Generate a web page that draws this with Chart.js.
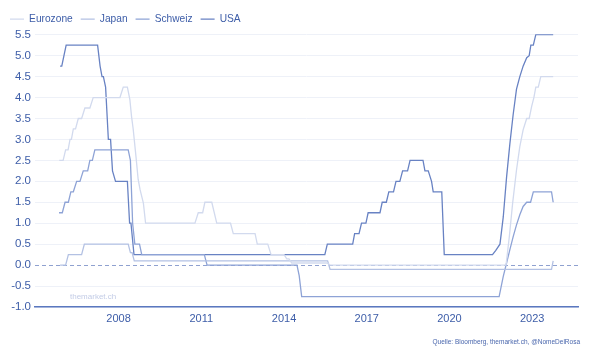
<!DOCTYPE html>
<html><head><meta charset="utf-8">
<script src="https://cdn.jsdelivr.net/npm/chart.js@4.4.1/dist/chart.umd.min.js"></script>
<style>html,body{margin:0;padding:0;background:#fff}#wrap{width:604px;height:353px;position:relative}</style>
</head><body><div id="wrap"><canvas id="c"></canvas></div>
<script>
// ---- data (x = position on the year axis, y = policy rate in %) ----
const seriesNames = ['Eurozone', 'Japan', 'Schweiz', 'USA'];

const euroX = [2005.85,2005.99,2006.08,2006.17,2006.24,2006.29,2006.36,2006.44,2006.54,2006.66,2006.78,2006.96,2007.08,2008.05,2008.17,2008.32,2008.41,2008.47,2008.53,2008.63,2008.71,2008.78,2008.90,2008.98,2010.77,2010.89,2011.05,2011.13,2011.38,2011.56,2012.06,2012.16,2012.95,2013.03,2013.41,2013.53,2014.00,2014.10,2014.18,2014.28,2015.56,2015.67,2022.05,2022.17,2022.29,2022.43,2022.55,2022.67,2022.80,2022.89,2022.98,2023.06,2023.13,2023.22,2023.31,2023.76];
const euroY = [2.5,2.5,2.75,2.75,3.0,3.0,3.25,3.25,3.5,3.5,3.75,3.75,4.0,4.0,4.25,4.25,3.95,3.55,3.25,2.6,2.05,1.8,1.48,1.0,1.0,1.25,1.25,1.5,1.5,1.0,1.0,0.75,0.75,0.5,0.5,0.25,0.25,0.15,0.15,0.05,0.05,0.0,0.0,0.68,1.48,2.27,2.83,3.23,3.5,3.5,3.79,4.0,4.25,4.25,4.5,4.5];

const japanX = [2005.88,2006.08,2006.18,2006.66,2006.76,2008.35,2008.43,2008.49,2008.57,2015.58,2015.67,2023.70,2023.76];
const japanY = [0.0,0.0,0.25,0.25,0.5,0.5,0.3,0.3,0.1,0.1,-0.1,-0.1,0.1];

const swissX = [2005.84,2005.96,2006.06,2006.18,2006.27,2006.36,2006.48,2006.60,2006.72,2006.88,2006.96,2007.05,2007.14,2008.35,2008.43,2008.51,2008.59,2008.76,2008.84,2011.11,2011.21,2014.47,2014.55,2014.64,2021.80,2021.95,2022.07,2022.19,2022.31,2022.43,2022.55,2022.67,2022.80,2022.94,2023.04,2023.70,2023.76];
const swissY = [1.25,1.25,1.5,1.5,1.75,1.75,2.0,2.0,2.25,2.25,2.5,2.5,2.75,2.75,2.5,1.0,0.5,0.5,0.25,0.25,0.0,0.0,-0.25,-0.75,-0.75,-0.27,0.05,0.37,0.68,0.96,1.2,1.4,1.5,1.5,1.75,1.75,1.5];

const usaX = [2005.88,2005.94,2006.02,2006.10,2007.24,2007.33,2007.40,2007.45,2007.53,2007.63,2007.71,2007.78,2007.89,2008.32,2008.40,2008.45,2008.56,2015.48,2015.57,2016.49,2016.56,2016.72,2016.81,2016.97,2017.05,2017.48,2017.56,2017.71,2017.80,2017.97,2018.06,2018.20,2018.30,2018.48,2018.57,2019.04,2019.11,2019.23,2019.35,2019.41,2019.72,2019.81,2021.56,2021.68,2021.83,2021.95,2022.07,2022.19,2022.31,2022.43,2022.55,2022.67,2022.80,2022.89,2022.95,2023.04,2023.13,2023.76];
const usaY = [4.75,4.75,5.0,5.25,5.25,4.75,4.5,4.5,4.25,3.0,3.0,2.25,2.0,2.0,1.0,1.0,0.25,0.25,0.5,0.5,0.75,0.75,1.0,1.0,1.25,1.25,1.5,1.5,1.75,1.75,2.0,2.0,2.25,2.25,2.5,2.5,2.25,2.25,2.0,1.75,1.75,0.25,0.25,0.35,0.5,1.15,2.1,2.9,3.6,4.2,4.5,4.75,4.95,5.0,5.25,5.25,5.5,5.5];

const xTickYears = [2008, 2011, 2014, 2017, 2020, 2023];
const yTickValues = [-1.0,-0.5,0.0,0.5,1.0,1.5,2.0,2.5,3.0,3.5,4.0,4.5,5.0,5.5];
const sourceText = 'Quelle: Bloomberg, themarket.ch, @NomeDelRosa';
const watermarkText = 'themarket.ch';

// ---- styling ----
const seriesColors = ['#d2daee', '#b3c1e3', '#8ea3d6', '#6882c3'];
const textColor = '#3d5da8';
const FONT = '"Liberation Sans", Arial, sans-serif';

function pts(xs, ys) { return xs.map((x, i) => ({ x: x, y: ys[i] })); }
const seriesData = [pts(euroX, euroY), pts(japanX, japanY), pts(swissX, swissY), pts(usaX, usaY)];

const decor = {
  id: 'decor',
  beforeDatasetsDraw(chart) {
    const ctx = chart.ctx, a = chart.chartArea;
    const y0 = Math.round(chart.scales.y.getPixelForValue(0)) + 0.5;
    ctx.save();
    ctx.setLineDash([4, 3]);
    ctx.strokeStyle = '#8fa1d0';
    ctx.lineWidth = 1;
    ctx.beginPath(); ctx.moveTo(a.left, y0); ctx.lineTo(a.right, y0); ctx.stroke();
    ctx.setLineDash([]);
    ctx.font = '8px ' + FONT;
    ctx.fillStyle = '#c3cce6';
    ctx.textBaseline = 'middle';
    ctx.textAlign = 'left';
    ctx.fillText(watermarkText, a.left + 35, a.bottom - 10);
    ctx.restore();
  },
  afterDraw(chart) {
    const ctx = chart.ctx;
    ctx.save();
    ctx.font = '6.5px ' + FONT;
    ctx.fillStyle = '#4a67ad';
    ctx.textAlign = 'right';
    ctx.textBaseline = 'middle';
    ctx.fillText(sourceText, chart.width - 24, 342.5);
    ctx.restore();
  }
};

new Chart(document.getElementById('c'), {
  type: 'line',
  data: {
    datasets: seriesNames.map((name, i) => ({
      label: name,
      data: seriesData[i],
      borderColor: seriesColors[i],
      backgroundColor: seriesColors[i],
      borderWidth: 1.3,
      pointRadius: 0,
      pointHoverRadius: 0,
      tension: 0,
      fill: false
    }))
  },
  options: {
    responsive: true,
    maintainAspectRatio: false,
    animation: false,
    devicePixelRatio: 1,
    layout: { padding: { top: 6, left: 2, right: 26, bottom: 0 } },
    plugins: {
      legend: {
        position: 'top',
        align: 'start',
        labels: {
          usePointStyle: true,
          pointStyle: 'line',
          pointStyleWidth: 14,
          color: textColor,
          font: { family: FONT, size: 10.2 },
          padding: 8
        }
      },
      tooltip: { enabled: false }
    },
    scales: {
      x: {
        type: 'linear',
        min: 2004.97,
        max: 2024.66,
        afterBuildTicks: s => { s.ticks = xTickYears.map(v => ({ value: v })); },
        afterFit: s => { s.height = 46; },
        ticks: {
          autoSkip: false,
          maxRotation: 0,
          padding: 5,
          color: textColor,
          font: { family: FONT, size: 11 },
          callback: v => String(v)
        },
        grid: { display: false, drawTicks: false },
        border: { display: true, color: '#5b78bf', width: 1.5 }
      },
      y: {
        min: -1.0,
        max: 5.512,
        afterBuildTicks: s => { s.ticks = yTickValues.map(v => ({ value: v })); },
        afterFit: s => { s.width = 33; },
        ticks: {
          padding: 4,
          color: textColor,
          font: { family: FONT, size: 11.5 },
          callback: v => Number(v).toFixed(1)
        },
        grid: {
          drawTicks: false,
          color: c => (c.tick && c.tick.value === 0) ? 'rgba(0,0,0,0)' : '#eef1f8',
          lineWidth: 1
        },
        border: { display: false }
      }
    }
  },
  plugins: [decor]
});
</script>
</body></html>
